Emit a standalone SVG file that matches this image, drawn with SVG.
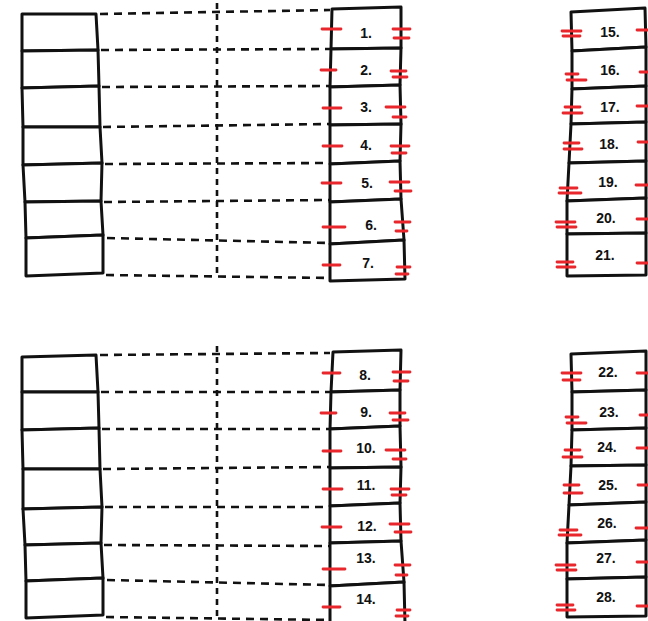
<svg xmlns="http://www.w3.org/2000/svg" width="648" height="621" viewBox="0 0 648 621">
<style>
.c{fill:#fff;stroke:#111;stroke-width:3;stroke-linejoin:round}
.d{fill:none;stroke:#111;stroke-width:2.6;stroke-dasharray:8 6;stroke-linecap:butt}
.v{fill:none;stroke:#111;stroke-width:2.6;stroke-dasharray:6 5}
.m{stroke:#e8262b;stroke-width:2.8;stroke-linecap:round}
.t{font-family:"Liberation Sans","DejaVu Sans",sans-serif;font-size:14px;font-weight:bold;fill:#111;text-anchor:middle}
</style>
<rect width="648" height="621" fill="#fff"/>
<g id="connectors">
<path class="d" d="M100,14L330,10M101,50L330,49M102,87L330,86M103,127L330,124M105,164L330,163M104,202L330,200M107,238L330,243M106,275L330,278"/>
<path class="v" d="M217,3V276"/>
<path class="d" d="M100,355L330,353M101,392L330,392M102,429L330,429M103,469L330,467M105,507L330,507M104,545L330,546M107,580L330,585M106,617L330,620"/>
<path class="v" d="M217,346V618"/>
</g>
<g id="left-top">
<g id="lt1"><polygon class="c" points="22,14 96,14 98,50 22,51"/></g>
<g id="lt2"><polygon class="c" points="22,51 98,50 99,86 22,88"/></g>
<g id="lt3"><polygon class="c" points="22,88 99,86 100,127 23,127"/></g>
<g id="lt4"><polygon class="c" points="23,127 100,127 102,163 23,165"/></g>
<g id="lt5"><polygon class="c" points="23,165 102,163 101,201 25,202"/></g>
<g id="lt6"><polygon class="c" points="25,202 101,201 103,235 26,238"/></g>
<g id="lt7"><polygon class="c" points="26,238 103,235 103,273 26,276"/></g>
</g>
<g id="left-bottom">
<g id="lb1"><polygon class="c" points="22,357 96,355 98,392 22,392"/></g>
<g id="lb2"><polygon class="c" points="22,392 98,392 99,428 22,430"/></g>
<g id="lb3"><polygon class="c" points="22,430 99,428 100,469 23,469"/></g>
<g id="lb4"><polygon class="c" points="23,469 100,469 102,507 23,509"/></g>
<g id="lb5"><polygon class="c" points="23,509 102,507 101,543 25,545"/></g>
<g id="lb6"><polygon class="c" points="25,545 101,543 103,578 26,581"/></g>
<g id="lb7"><polygon class="c" points="26,581 103,578 103,615 26,618"/></g>
</g>
<g id="n1"><polygon class="c" points="332,9 401,7 401,48 331,49"/><text class="t" x="366" y="38">1.</text><path class="m" d="M322,29H341M393,29H410M394,38H409"/></g>
<g id="n2"><polygon class="c" points="331,49 401,48 400,85 330,87"/><text class="t" x="366" y="75">2.</text><path class="m" d="M321,70H336M391,71H406M393,77H407"/></g>
<g id="n3"><polygon class="c" points="330,87 400,85 401,124 330,125"/><text class="t" x="366" y="112">3.</text><path class="m" d="M323,108H341M386,107H405M393,117H406"/></g>
<g id="n4"><polygon class="c" points="330,125 401,124 400,161 330,164"/><text class="t" x="366" y="150">4.</text><path class="m" d="M323,146H342M391,146H409M392,153H406"/></g>
<g id="n5"><polygon class="c" points="330,164 400,161 401,199 330,202"/><text class="t" x="367" y="188">5.</text><path class="m" d="M322,183H341M390,182H409M395,191H411"/></g>
<g id="n6"><polygon class="c" points="330,202 401,199 404,240 330,244"/><text class="t" x="371" y="230">6.</text><path class="m" d="M323,227H345M395,222H410M396,231H407"/></g>
<g id="n7"><polygon class="c" points="330,244 404,240 405,279 330,281"/><text class="t" x="368" y="268">7.</text><path class="m" d="M323,265H340M397,267H410M396,274H408"/></g>
<g id="n8"><polygon class="c" points="333,352 401,350 400,390 331,392"/><text class="t" x="365" y="380">8.</text><path class="m" d="M323,373H340M393,372H410M394,381H408"/></g>
<g id="n9"><polygon class="c" points="331,392 400,390 400,426 330,429"/><text class="t" x="366" y="417">9.</text><path class="m" d="M321,413H336M390,413H405M393,420H408"/></g>
<g id="n10"><polygon class="c" points="330,429 400,426 401,467 330,468"/><text class="t" x="366" y="453">10.</text><path class="m" d="M323,451H341M386,450H405M393,459H406"/></g>
<g id="n11"><polygon class="c" points="330,468 401,467 400,503 330,506"/><text class="t" x="366" y="490">11.</text><path class="m" d="M323,489H342M391,489H409M392,495H406"/></g>
<g id="n12"><polygon class="c" points="330,506 400,503 401,541 330,543"/><text class="t" x="367" y="531">12.</text><path class="m" d="M322,527H341M390,524H409M395,532H411"/></g>
<g id="n13"><polygon class="c" points="330,543 401,541 404,582 330,586"/><text class="t" x="366" y="563">13.</text><path class="m" d="M323,569H345M395,565H410M396,575H407"/></g>
<g id="n14"><polygon class="c" points="330,586 404,582 405,624 330,626"/><text class="t" x="366" y="604">14.</text><path class="m" d="M323,607H340M397,610H410M396,616H408"/></g>
<g id="n15"><polygon class="c" points="571,12 645,8 646,47 572,51"/><text class="t" x="610" y="37">15.</text><path class="m" d="M562,31H581M563,36H580M637,30H648"/></g>
<g id="n16"><polygon class="c" points="572,51 646,47 646,86 572,89"/><text class="t" x="610" y="75">16.</text><path class="m" d="M566,74H578M567,80H586M640,72H648"/></g>
<g id="n17"><polygon class="c" points="572,89 646,86 646,122 571,124"/><text class="t" x="610" y="112">17.</text><path class="m" d="M565,107H580M563,113H582M637,106H648"/></g>
<g id="n18"><polygon class="c" points="571,124 646,122 646,161 569,163"/><text class="t" x="609" y="149">18.</text><path class="m" d="M564,143H579M564,149H582M638,142H648"/></g>
<g id="n19"><polygon class="c" points="569,163 646,161 646,198 567,201"/><text class="t" x="608" y="187">19.</text><path class="m" d="M560,188H577M559,193H581M636,185H648"/></g>
<g id="n20"><polygon class="c" points="567,201 646,198 646,233 567,234"/><text class="t" x="606" y="223">20.</text><path class="m" d="M556,222H575M557,227H576M637,219H648"/></g>
<g id="n21"><polygon class="c" points="567,234 646,233 646,275 567,276"/><text class="t" x="605" y="260">21.</text><path class="m" d="M557,262H573M557,267H575M637,263H648"/></g>
<g id="n22"><polygon class="c" points="571,354 646,351 646,390 572,392"/><text class="t" x="608" y="377">22.</text><path class="m" d="M562,373H581M563,380H580M637,373H648"/></g>
<g id="n23"><polygon class="c" points="572,392 646,390 646,428 572,430"/><text class="t" x="609" y="417">23.</text><path class="m" d="M566,417H578M567,423H586M640,415H648"/></g>
<g id="n24"><polygon class="c" points="572,430 646,428 646,465 571,466"/><text class="t" x="607" y="452">24.</text><path class="m" d="M565,450H580M563,457H582M637,448H648"/></g>
<g id="n25"><polygon class="c" points="571,466 646,465 646,502 569,505"/><text class="t" x="608" y="490">25.</text><path class="m" d="M564,485H579M564,493H582M638,485H648"/></g>
<g id="n26"><polygon class="c" points="569,505 646,502 646,540 567,543"/><text class="t" x="607" y="528">26.</text><path class="m" d="M560,530H577M559,535H581M636,528H648"/></g>
<g id="n27"><polygon class="c" points="567,543 646,540 646,577 567,579"/><text class="t" x="606" y="563">27.</text><path class="m" d="M556,565H575M557,570H576M637,562H648"/></g>
<g id="n28"><polygon class="c" points="567,579 646,577 646,616 567,617"/><text class="t" x="606" y="602">28.</text><path class="m" d="M557,605H573M557,610H575M637,606H648"/></g>
</svg>
